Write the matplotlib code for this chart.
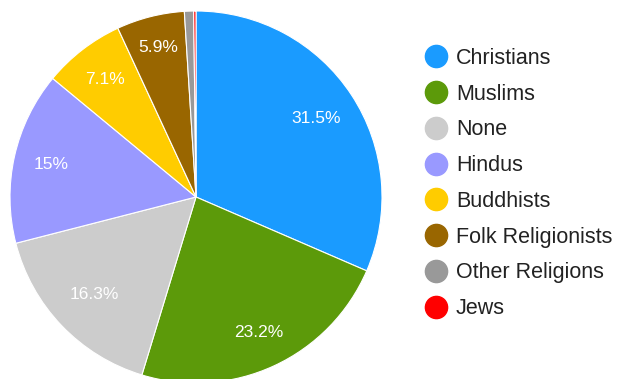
import numpy as np
import matplotlib.pyplot as plt
from matplotlib.lines import Line2D

plt.rcParams['font.family'] = ['Liberation Sans', 'DejaVu Sans']

religions = ['Christians', 'Muslims', 'None', 'Hindus', 'Buddhists',
             'Folk Religionists', 'Other Religions', 'Jews']
shares = [31.5, 23.2, 16.3, 15.0, 7.1, 5.9, 0.8, 0.2]
labels = ['31.5%', '23.2%', '16.3%', '15%', '7.1%', '5.9%', '', '']
colors = ['#1a9bff', '#5c9a0a', '#cccccc', '#9999ff', '#ffcc00',
          '#996600', '#999999', '#ff0000']
label_dist = [0.77, 0.80, 0.76, 0.80, 0.80, 0.83, 0, 0]

W, H = 619, 379
fig = plt.figure(figsize=(W / 100, H / 100), dpi=100)

# pie centred at (196, 197) px with radius 186 px
cx, cy, r = 196, 197, 186
ax = fig.add_axes([(cx - r) / W, (H - cy - r) / H, 2 * r / W, 2 * r / H])

wedges, _ = ax.pie(shares, colors=colors, startangle=90, counterclock=False,
                   radius=1, wedgeprops=dict(edgecolor='white', linewidth=0.8))
ax.set_xlim(-1, 1)
ax.set_ylim(-1, 1)
ax.set_aspect('equal')
ax.axis('off')

for w, lab, d in zip(wedges, labels, label_dist):
    if not lab:
        continue
    mid = np.deg2rad((w.theta1 + w.theta2) / 2)
    ax.text(d * np.cos(mid), d * np.sin(mid), lab, color='white',
            fontsize=12.5, ha='center', va='center')

handles = [Line2D([], [], marker='o', linestyle='none', markersize=16,
                  markerfacecolor=c, markeredgecolor=c) for c in colors]
fig.legend(handles, religions, loc='upper left',
           bbox_to_anchor=(422 / W, 1 - 48 / H), frameon=False,
           fontsize=15.5, labelspacing=0.685, handletextpad=0.28,
           handlelength=1.3, borderaxespad=0, borderpad=0,
           labelcolor='#222222')

fig.savefig('out.png', dpi=100, facecolor='white')
